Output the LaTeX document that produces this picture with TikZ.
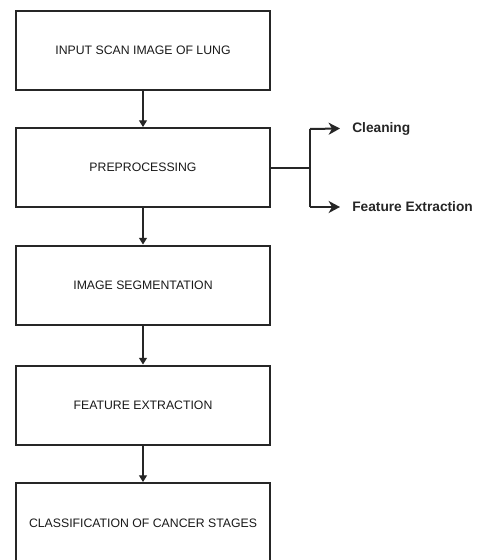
\documentclass[tikz,border=0pt]{standalone}
\usepackage{fontspec}
\setmainfont{Liberation Sans}
\usetikzlibrary{arrows.meta}
\begin{document}
\begin{tikzpicture}[x=0.75pt,y=-0.75pt,
  stepbox/.style={draw=black!85, line width=1.5pt, minimum width=190.5pt, minimum height=59.25pt, inner sep=0pt, font=\fontsize{9.2}{11}\selectfont, text=black!90},
  flow/.style={draw=black!85, line width=0.8pt, -{Triangle[length=5pt,width=6pt]}},
  branch/.style={draw=black!85, line width=1.5pt},
  brancharrow/.style={branch, -{Stealth[length=8.5pt,width=9pt,inset=2.5pt]}},
  outlabel/.style={anchor=west, inner xsep=9pt, inner ysep=0pt, font=\bfseries\fontsize{10.3}{12}\selectfont, text=black!85}]
\useasboundingbox (0,0) rectangle (481,560);
\begin{scope}
\clip (0,0) rectangle (481,560);
\node[stepbox] (input) at (143,50.5) {INPUT SCAN IMAGE OF LUNG};
\node[stepbox] (pre) at (143,167.5) {PREPROCESSING};
\node[stepbox] (seg) at (143,285) {IMAGE SEGMENTATION};
\node[stepbox] (feat) at (143,405) {FEATURE EXTRACTION};
\node[stepbox, minimum height=60.75pt] (cls) at (143,523.5) {CLASSIFICATION OF CANCER STAGES};
\end{scope}
\draw[flow] (input) -- (pre);
\draw[flow] (pre) -- (seg);
\draw[flow] (seg) -- (feat);
\draw[flow] (feat) -- (cls);
\coordinate (fork) at (310,167.5);
\coordinate (forktop) at (310,129);
\coordinate (forkbot) at (310,207);
\node[outlabel] (clean) at (340,128.5) {Cleaning};
\node[outlabel] (fext) at (340,207) {Feature Extraction};
\draw[branch] (pre.east) -- (fork);
\draw[branch] (forkbot) -- (forktop);
\draw[brancharrow] (forktop) -- (clean.west);
\draw[brancharrow] (forkbot) -- (fext.west);
\end{tikzpicture}
\end{document}
